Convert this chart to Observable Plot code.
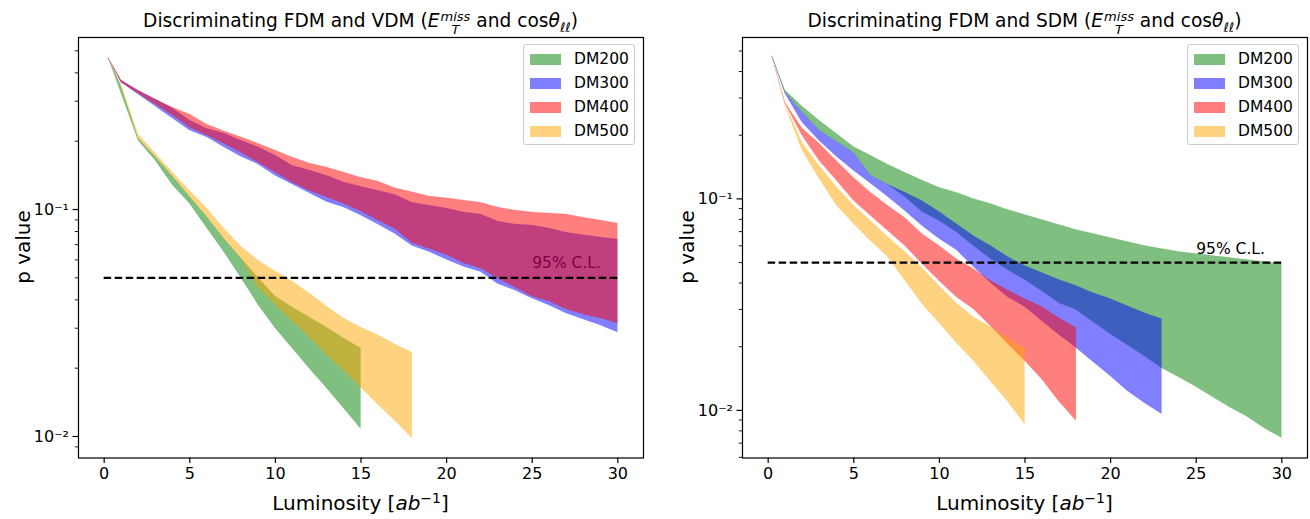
<!DOCTYPE html>
<html>
<head>
<meta charset="utf-8">
<script src="https://cdn.jsdelivr.net/npm/d3@7"></script>
<script src="https://cdn.jsdelivr.net/npm/@observablehq/plot@0.6"></script>
<style>
  html, body { margin: 0; padding: 0; background: #fff; }
  body { font-family: "DejaVu Sans", sans-serif; color: #000; }
  #wrap { position: relative; width: 1310px; height: 519px; overflow: hidden; }
  .panel { position: absolute; top: 0; }
  .title { position: absolute; top: 10px; font-size: 18.6px; line-height: 22px; text-align: center; white-space: nowrap; }
  .xlabel { position: absolute; top: 491px; font-size: 20px; line-height: 24px; text-align: center; white-space: nowrap; }
  .ylabel { position: absolute; font-size: 20px; line-height: 24px; white-space: nowrap; transform: translate(-50%, -50%) rotate(-90deg); }
  .ss { display: inline-flex; flex-direction: column; font-size: 0.7em; line-height: 1; position: relative; top: -0.5em; font-style: italic; margin-left: 1px; }
  .sb { font-size: 0.7em; position: relative; top: 0.35em; font-style: italic; }
  .sp { font-size: 0.7em; position: relative; top: -0.5em; }
  .legend { position: absolute; top: 44px; width: 112px; height: 101px; box-sizing: border-box; border: 1px solid #cccccc; border-radius: 3px; background: rgba(255,255,255,0.8); }
  .lrow { position: absolute; left: 6px; height: 18px; font-size: 15.5px; line-height: 18px; }
  .lpatch { position: absolute; left: 0; top: 3.5px; width: 31px; height: 11px; }
  .ltext { position: absolute; left: 44px; top: 0; }
</style>
</head>
<body>
<div id="wrap">
  <div id="left" class="panel" style="left:0px"></div>
  <div id="right" class="panel" style="left:655px"></div>
</div>
<script>
// ---------------- data ----------------
const lumi = [0.25, 1, 2, 3, 4, 5, 6, 7, 8, 9, 10, 11, 12, 13, 14, 15, 16, 17, 18, 19, 20, 21, 22, 23, 24, 25, 26, 27, 28, 29, 30];
const seriesNames = ["DM200", "DM300", "DM400", "DM500"];
const seriesColors = ["green", "blue", "red", "orange"];

// FDM vs VDM (left)
const vdm200Lo = [0.465, 0.325, 0.201, 0.164, 0.128, 0.106, 0.083, 0.065, 0.050, 0.038, 0.030, 0.0244, 0.0199, 0.0163, 0.0133, 0.0108];
const vdm200Hi = [0.465, 0.348, 0.206, 0.171, 0.140, 0.114, 0.093, 0.0745, 0.061, 0.050, 0.0414, 0.037, 0.0334, 0.0302, 0.027, 0.0244];
const vdm300Lo = [0.465, 0.363, 0.321, 0.284, 0.252, 0.223, 0.208, 0.188, 0.171, 0.158, 0.141, 0.129, 0.118, 0.108, 0.102, 0.094, 0.086, 0.078, 0.069, 0.065, 0.060, 0.056, 0.053, 0.047, 0.044, 0.0405, 0.0378, 0.0348, 0.0328, 0.0308, 0.0287];
const vdm300Hi = [0.465, 0.370, 0.334, 0.305, 0.279, 0.247, 0.227, 0.216, 0.201, 0.188, 0.173, 0.156, 0.1485, 0.141, 0.1315, 0.126, 0.121, 0.116, 0.107, 0.104, 0.101, 0.097, 0.095, 0.0885, 0.086, 0.085, 0.0825, 0.079, 0.077, 0.0753, 0.0738];
const vdm400Lo = [0.465, 0.363, 0.324, 0.290, 0.260, 0.230, 0.212, 0.195, 0.178, 0.161, 0.1455, 0.1315, 0.121, 0.113, 0.106, 0.098, 0.0895, 0.082, 0.071, 0.067, 0.063, 0.058, 0.055, 0.0497, 0.0453, 0.0414, 0.0393, 0.0363, 0.0345, 0.0331, 0.0315];
const vdm400Hi = [0.465, 0.370, 0.334, 0.305, 0.281, 0.262, 0.237, 0.221, 0.208, 0.195, 0.182, 0.1695, 0.1595, 0.153, 0.1455, 0.138, 0.133, 0.124, 0.119, 0.114, 0.112, 0.1095, 0.107, 0.102, 0.099, 0.097, 0.096, 0.095, 0.092, 0.0895, 0.0868];
const vdm500Lo = [0.465, 0.348, 0.206, 0.171, 0.140, 0.114, 0.093, 0.0745, 0.061, 0.0453, 0.0382, 0.0321, 0.0273, 0.0230, 0.0195, 0.0164, 0.0138, 0.0117, 0.0098];
const vdm500Hi = [0.465, 0.355, 0.214, 0.1765, 0.1455, 0.121, 0.101, 0.0825, 0.0687, 0.0596, 0.0533, 0.0482, 0.0427, 0.0374, 0.0331, 0.0302, 0.0279, 0.0254, 0.0234];

// FDM vs SDM (right)
const sdm200Lo = [0.47, 0.318, 0.256, 0.210, 0.186, 0.165, 0.1285, 0.1165, 0.102, 0.0868, 0.0787, 0.0698, 0.0599, 0.0520, 0.0461, 0.0413, 0.0366, 0.0321, 0.0298, 0.0261, 0.0229, 0.0203, 0.0180, 0.0158, 0.0143, 0.0129, 0.0115, 0.0103, 0.0093, 0.0082, 0.0074];
const sdm200Hi = [0.47, 0.325, 0.273, 0.234, 0.203, 0.176, 0.160, 0.145, 0.133, 0.122, 0.113, 0.107, 0.100, 0.0947, 0.0887, 0.084, 0.0795, 0.0753, 0.0713, 0.0682, 0.0653, 0.0625, 0.0599, 0.0579, 0.0561, 0.0549, 0.0537, 0.0525, 0.0514, 0.0503, 0.0492];
const sdm300Lo = [0.47, 0.3145, 0.229, 0.188, 0.158, 0.136, 0.118, 0.102, 0.0877, 0.0745, 0.0646, 0.0573, 0.0476, 0.0400, 0.0343, 0.0308, 0.0264, 0.0227, 0.0197, 0.0169, 0.0145, 0.0123, 0.0108, 0.0096];
const sdm300Hi = [0.47, 0.318, 0.256, 0.210, 0.186, 0.165, 0.1285, 0.1165, 0.1068, 0.0978, 0.0868, 0.0761, 0.0668, 0.0599, 0.0531, 0.0481, 0.0446, 0.0413, 0.0387, 0.0358, 0.0336, 0.0311, 0.0288, 0.0270];
const sdm400Lo = [0.47, 0.282, 0.199, 0.151, 0.122, 0.098, 0.083, 0.0705, 0.0599, 0.0492, 0.0409, 0.0343, 0.0301, 0.0250, 0.0206, 0.0171, 0.0140, 0.0110, 0.0089];
const sdm400Hi = [0.47, 0.285, 0.215, 0.182, 0.151, 0.126, 0.107, 0.0927, 0.0813, 0.0682, 0.0599, 0.0520, 0.0466, 0.0409, 0.0370, 0.0336, 0.0308, 0.0273, 0.0245];
const sdm500Lo = [0.47, 0.276, 0.169, 0.124, 0.093, 0.076, 0.063, 0.053, 0.041, 0.0318, 0.0258, 0.0208, 0.0171, 0.0137, 0.0110, 0.0086];
const sdm500Hi = [0.47, 0.279, 0.184, 0.143, 0.114, 0.093, 0.0787, 0.066, 0.0561, 0.0471, 0.0387, 0.0321, 0.0276, 0.0247, 0.0219, 0.0195];

// reference line and annotation
const clLevel = 0.05;
const clRange = [0, 30];
const clLabel = "95% C.L.";
const clLabelPos = [25, 0.058];

// ticks
const xTicks = [0, 5, 10, 15, 20, 25, 30];
const yMajorTicks = [0.01, 0.1];
const yMajorLabels = ["10\u207B\u00B2", "10\u207B\u00B9"];
const yMinorLeft = [0.009, 0.02, 0.03, 0.04, 0.05, 0.06, 0.07, 0.08, 0.09, 0.2, 0.3, 0.4, 0.5];
const yMinorRight = [0.006, 0.007, 0.008, 0.009, 0.02, 0.03, 0.04, 0.05, 0.06, 0.07, 0.08, 0.09, 0.2, 0.3, 0.4, 0.5];

// ---------------- build ----------------
function rowsFrom(pairs) {
  const rows = [];
  pairs.forEach(([lo, hi], k) => {
    lo.forEach((v, i) => rows.push({series: seriesNames[k], lum: lumi[i], lo: v, hi: hi[i]}));
  });
  return rows;
}
const leftRows = rowsFrom([[vdm200Lo, vdm200Hi], [vdm300Lo, vdm300Hi], [vdm400Lo, vdm400Hi], [vdm500Lo, vdm500Hi]]);
const rightRows = rowsFrom([[sdm200Lo, sdm200Hi], [sdm300Lo, sdm300Hi], [sdm400Lo, sdm400Hi], [sdm500Lo, sdm500Hi]]);

function panel(rows, yDomain, yMinor, margins) {
  return Plot.plot({
    width: 655,
    height: 519,
    marginTop: 37,
    marginBottom: 61.5,
    marginLeft: margins[0],
    marginRight: margins[1],
    style: {fontFamily: "DejaVu Sans", fontSize: "16px", color: "#000", background: "transparent", overflow: "visible"},
    x: {domain: [-1.5, 31.5]},
    y: {type: "log", domain: yDomain},
    color: {domain: seriesNames, range: seriesColors},
    marks: [
      Plot.text([clLabel], {x: clLabelPos[0], y: clLabelPos[1], text: d => d, textAnchor: "start", lineAnchor: "middle", fontSize: 15.5, fill: "#000"}),
      Plot.areaY(rows, {x: "lum", y1: "lo", y2: "hi", z: "series", fill: "series", fillOpacity: 0.5, stroke: "series", strokeOpacity: 0.12, strokeWidth: 0.8, curve: "linear"}),
      Plot.ruleY([clLevel], {x1: clRange[0], x2: clRange[1], stroke: "#000", strokeWidth: 2.2, strokeDasharray: "7.5,3.5"}),
      Plot.frame({stroke: "#000", strokeWidth: 1.2}),
      Plot.axisX({ticks: xTicks, tickSize: 5.5, tickPadding: 4, label: null, fontSize: 16, strokeWidth: 1.2}),
      Plot.axisY({ticks: yMajorTicks, tickFormat: d => yMajorLabels[yMajorTicks.indexOf(d)], tickSize: 5.5, tickPadding: 4, label: null, fontSize: 16, strokeWidth: 1.2}),
      Plot.axisY({ticks: yMinor, tickFormat: () => "", tickSize: 3.2, label: null, strokeWidth: 0.9})
    ]
  });
}

document.getElementById("left").append(panel(leftRows, [0.00804, 0.5726], yMinorLeft, [78, 12]));
document.getElementById("right").append(panel(rightRows, [0.005955, 0.5794], yMinorRight, [87, 3]));

// ---------------- text & legends ----------------
const wrap = document.getElementById("wrap");
function addDiv(cls, style, html) {
  const d = document.createElement("div");
  d.className = cls;
  Object.assign(d.style, style);
  d.innerHTML = html;
  wrap.append(d);
  return d;
}
const titleMath = ' (<i>E</i><span class="ss"><span>miss</span><span>T</span></span> and cos<i>θ</i><span class="sb">ℓℓ</span>)';
addDiv("title", {left: "0px", width: "721px"}, "Discriminating FDM and VDM" + titleMath);
addDiv("title", {left: "742px", width: "565px"}, "Discriminating FDM and SDM" + titleMath);
const xl = 'Luminosity [<i>ab</i><span class="sp">−1</span>]';
addDiv("xlabel", {left: "78px", width: "565px"}, xl);
addDiv("xlabel", {left: "742px", width: "565px"}, xl);
addDiv("ylabel", {left: "23px", top: "247px"}, "p value");
addDiv("ylabel", {left: "687px", top: "247px"}, "p value");

function legend(left) {
  const box = addDiv("legend", {left: left + "px"}, "");
  seriesNames.forEach((name, i) => {
    const r = document.createElement("div");
    r.className = "lrow";
    r.style.top = (5 + i * 24) + "px";
    r.innerHTML = `<div class="lpatch" style="background:${seriesColors[i]};opacity:0.5"></div><div class="ltext">${name}</div>`;
    box.append(r);
  });
}
legend(523);
legend(1187);
</script>
</body>
</html>
